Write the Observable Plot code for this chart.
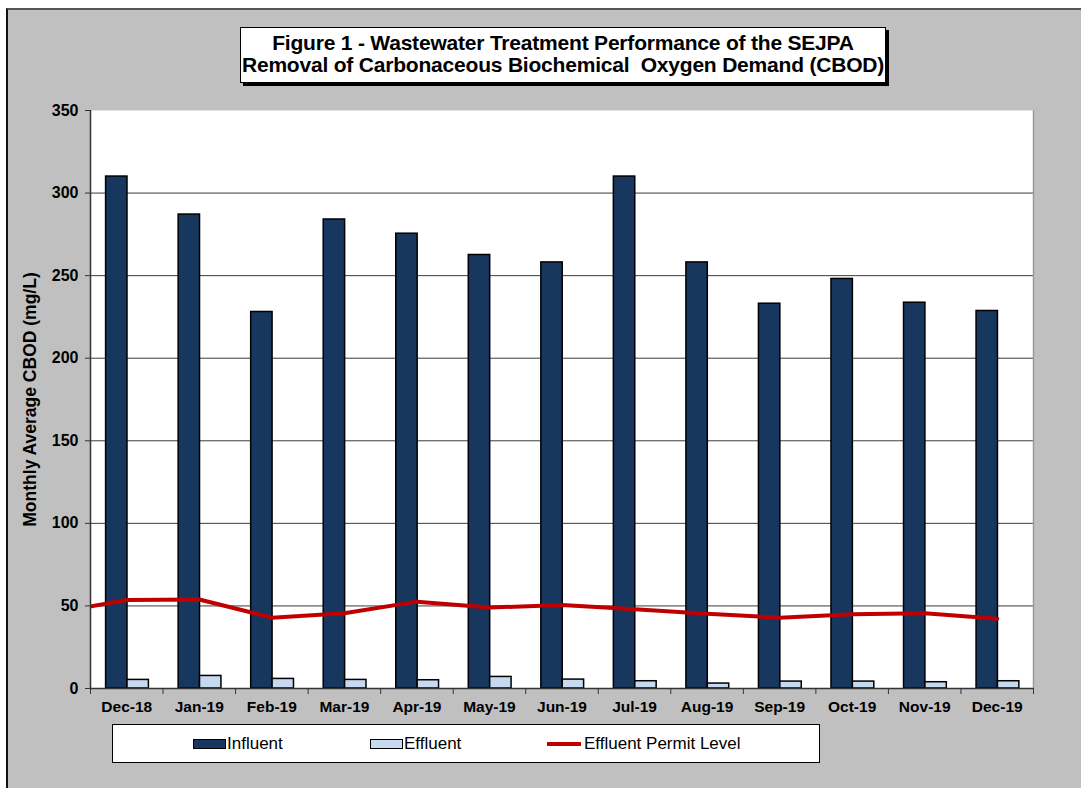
<!DOCTYPE html>
<html><head><meta charset="utf-8">
<script src="https://cdn.jsdelivr.net/npm/d3@7"></script>
<script src="https://cdn.jsdelivr.net/npm/@observablehq/plot@0.6"></script>
<style>
html,body{margin:0;padding:0;background:#fff;width:1081px;height:788px;overflow:hidden;font-family:"Liberation Sans",Arial,sans-serif;}
#bg{position:absolute;left:6px;top:8px;width:1075px;height:780px;background:#c0c0c0;border-top:2px solid #555;border-left:2px solid #111;box-sizing:border-box;}
#chart{position:absolute;left:0;top:0;}
#title{position:absolute;left:240px;top:27px;width:646px;height:56px;background:#fff;border:1.5px solid #000;box-shadow:3px 3px 0 #000;box-sizing:border-box;text-align:center;font-weight:bold;font-size:21px;line-height:22px;padding-top:4px;color:#000;letter-spacing:-0.2px;}
#legend{position:absolute;left:112px;top:724px;width:708px;height:39px;background:#fff;border:1px solid #000;box-sizing:border-box;font-size:17px;color:#000;}
.item{position:absolute;top:0;height:37px;line-height:37px;white-space:nowrap;}
.sw{display:inline-block;width:31px;height:8px;border:1.5px solid #000;vertical-align:middle;margin-right:1px;position:relative;top:-1px;}
.ln{display:inline-block;width:34px;height:4px;background:#c00000;vertical-align:middle;margin-right:3px;position:relative;top:-1px;}
</style>
</head><body>
<div id="bg"></div>
<div id="chart"></div>
<div id="title">Figure 1 - Wastewater Treatment Performance of the SEJPA<br>Removal of Carbonaceous Biochemical&nbsp; Oxygen Demand (CBOD)</div>
<div id="legend"></div>
<script>
const months = ["Dec-18","Jan-19","Feb-19","Mar-19","Apr-19","May-19","Jun-19","Jul-19","Aug-19","Sep-19","Oct-19","Nov-19","Dec-19"];
const influent = [310, 287, 228, 284, 275.4, 262.5, 258, 310, 258, 233, 248, 233.6, 228.6];
const effluent = [5.2, 7.6, 5.8, 5.2, 5.0, 7.0, 5.4, 4.4, 3.0, 4.2, 4.2, 3.8, 4.4];
const permitLevel = [53.6, 53.9, 42.9, 45.6, 52.6, 49.0, 50.6, 48.0, 45.3, 42.9, 45.0, 45.6, 42.3];
const priorPermit = 45.8; // previous month (Nov-18), off the left edge of the chart
const yTicks = [0, 50, 100, 150, 200, 250, 300, 350];
const seriesNames = ["Influent", "Effluent", "Effluent Permit Level"];
const colors = {influent: "#17375e", effluent: "#c6d9f1", permit: "#c00000"};

const rows = months.map((m, i) => ({i, month: m, influent: influent[i], effluent: effluent[i]}));
const permitRows = [{i: -1, value: priorPermit}, ...permitLevel.map((v, i) => ({i, value: v}))];
const idx = months.map((_, i) => i);
const bounds = [-0.5, ...idx.map(i => i + 0.5)];

const plot = Plot.plot({
  width: 1081,
  height: 788,
  marginLeft: 90,
  marginRight: 48,
  marginTop: 110,
  marginBottom: 100,
  style: {background: "transparent", fontFamily: "'Liberation Sans', Arial, sans-serif", fontSize: "15.5px", fontWeight: "bold", color: "#000"},
  x: {domain: [-0.5, 12.5]},
  y: {domain: [0, 350]},
  marks: [
    Plot.frame({fill: "white", stroke: null}),
    Plot.ruleY(yTicks.filter(t => t > 0 && t < 350), {stroke: "#3c3c3c", strokeWidth: 1}),
    Plot.ruleX([12.5], {stroke: "#9a9a9a", strokeWidth: 1.5}),
    Plot.rectY(rows, {x1: d => d.i - 0.285, x2: d => d.i + 0.01, y: "influent", fill: colors.influent, stroke: "#000", strokeWidth: 1.5}),
    Plot.rectY(rows, {x1: d => d.i + 0.01, x2: d => d.i + 0.305, y: "effluent", fill: colors.effluent, stroke: "#000", strokeWidth: 1.5}),
    Plot.line(permitRows, {x: "i", y: "value", stroke: colors.permit, strokeWidth: 4, clip: true}),
    Plot.ruleX([-0.5], {stroke: "#333", strokeWidth: 1.5}),
    Plot.ruleY([0], {stroke: "#333", strokeWidth: 1.5}),
    Plot.axisY({ticks: yTicks, tickSize: 5, tickPadding: 7, label: null, stroke: "#333", fill: "#000", fontSize: 16, fontWeight: "bold"}),
    Plot.axisX({ticks: bounds, tickSize: 6, tickFormat: () => "", label: null, stroke: "#333"}),
    Plot.axisX({ticks: idx, tickSize: 0, tickPadding: 12, tickFormat: i => months[i], label: null, fill: "#000", fontSize: 15.5, fontWeight: "bold"}),
    Plot.text(["Monthly Average CBOD (mg/L)"], {frameAnchor: "left", rotate: -90, dx: -60, fontSize: 17.5, fontWeight: "bold", textAnchor: "middle", lineAnchor: "middle", fill: "#000"})
  ]
});
document.getElementById("chart").appendChild(plot);

const legend = document.getElementById("legend");
const legendPos = [80, 257, 434];
seriesNames.forEach((name, k) => {
  const d = document.createElement("div");
  d.className = "item";
  d.style.left = legendPos[k] + "px";
  const s = document.createElement("span");
  if (k < 2) { s.className = "sw"; s.style.background = k === 0 ? colors.influent : colors.effluent; }
  else { s.className = "ln"; }
  d.appendChild(s);
  d.appendChild(document.createTextNode(name));
  legend.appendChild(d);
});
</script>
</body></html>
